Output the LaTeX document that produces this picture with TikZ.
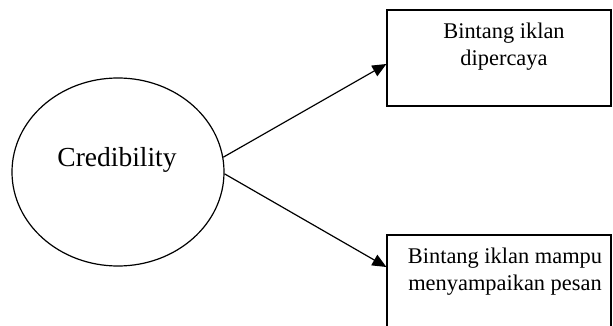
\documentclass[tikz,border=0pt]{standalone}
\usepackage{fontspec}
\setmainfont{Liberation Serif}
\usetikzlibrary{shapes.geometric,arrows.meta,calc}
\begin{document}
\begin{tikzpicture}[x=1pt,y=-1pt,
  line width=1.2pt,
  circ/.style={draw,ellipse,minimum width=212pt,minimum height=188pt,inner sep=0pt},
  box/.style={draw,rectangle,minimum width=224pt,minimum height=96pt,inner sep=0pt},
  lbl/.style={align=center,font=\fontsize{22.4}{27}\selectfont,inner sep=0pt},
  arr/.style={-{Triangle[length=14pt,width=12pt]}}]
\useasboundingbox (0,0) rectangle (613,326);
\begin{scope}
\clip (0,0) rectangle (613,326);
\node[circ] (c) at (118,172) {};
\node[font=\fontsize{27.5}{30}\selectfont,inner sep=0pt] (ct) at (117,160) {Credibility};
\node[box] (b1) at (499,58) {};
\node[box] (b2) at (499,283) {};
\node[lbl] (t1) at (504,47) {Bintang iklan\\dipercaya};
\node[lbl] (t2) at (505,272) {Bintang iklan mampu\\menyampaikan pesan};
\draw[arr] (c.8) -- ($(b1.west)+(0,6)$);
\draw[arr] (c.-1) -- ($(b2.west)+(0,-16)$);
\end{scope}
\end{tikzpicture}
\end{document}
